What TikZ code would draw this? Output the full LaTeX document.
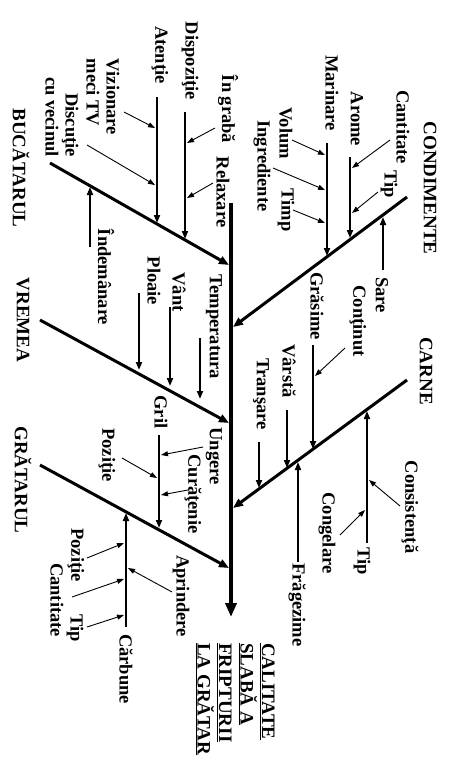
\documentclass[tikz,border=0pt]{standalone}
\usepackage{fontspec}
\setmainfont{Liberation Serif}
\usetikzlibrary{arrows.meta}
\begin{document}
\begin{tikzpicture}[x=1pt,y=-1pt,
 lbl/.style={rotate=-90,inner sep=0pt,font=\fontsize{18.5}{20}\selectfont\bfseries},
 hdr/.style={rotate=-90,inner sep=0pt,font=\fontsize{19}{21.5}\selectfont\bfseries},
 spine/.style={line width=4pt,-{Triangle[length=14pt,width=11pt]}},
 bone/.style={line width=3pt,-{Triangle[length=10pt,width=8pt]}},
 sub/.style={line width=1.8pt,-{Triangle[length=8pt,width=6pt]}},
 thinarr/.style={line width=0.9pt,-{Triangle[length=7pt,width=5pt]}}]
\useasboundingbox (0,0) rectangle (473,772);
\fill[white] (0,0) rectangle (473,772);

% headers and title
\node[hdr] (buc) at (21,168) {BUCĂTARUL};
\node[hdr] (vre) at (23,320) {VREMEA};
\node[hdr] (gra) at (23,480) {GRĂTARUL};
\node[hdr] (cond) at (430,188) {CONDIMENTE};
\node[hdr] (carne) at (426,371) {CARNE};
\node[hdr,align=left,anchor=north west] (title) at (275,643)
 {\underline{CALITATE}\\\underline{SLABĂ A}\\\underline{FRIPTURII}\\\underline{LA GRĂTAR}};

% left labels
\node[lbl] (aten) at (160,55) {Atenţie};
\node[lbl] (disp) at (190,61) {Dispoziţie};
\node[lbl,align=left] (viz) at (103,97) {Vizionare\\meci TV};
\node[lbl,align=right] (disc) at (62,117) {Discuţie\\cu vecinul};
\node[lbl] (grab) at (228,109) {În grabă};
\node[lbl] (relax) at (223,192) {Relaxare};
\node[lbl] (indem) at (106,277) {Îndemânare};
\node[lbl] (temp) at (214,327) {Temperatura};
\node[lbl] (vant) at (179,292) {Vânt};
\node[lbl] (ploaie) at (154,281) {Ploaie};
\node[lbl] (gril) at (161,412) {Gril};
\node[lbl] (ungere) at (214,456) {Ungere};
\node[lbl] (curat) at (193,494) {Curăţenie};
\node[lbl] (poz) at (107,455) {Poziţie};
\node[lbl] (aprind) at (181,596) {Aprindere};
\node[lbl] (carb) at (126,669) {Cărbune};
\node[lbl] (poz2) at (76,555) {Poziţie};
\node[lbl] (cant2) at (57,600) {Cantitate};
\node[lbl] (tip2) at (75,628) {Tip};

% right labels
\node[lbl] (cant) at (403,127) {Cantitate};
\node[lbl] (arome) at (357,119) {Arome};
\node[lbl] (marin) at (332,93) {Marinare};
\node[lbl] (tip) at (389,184) {Tip};
\node[lbl] (volum) at (286,133) {Volum};
\node[lbl] (ingr) at (262,166) {Ingrediente};
\node[lbl] (timp) at (286,210) {Timp};
\node[lbl] (sare) at (382,295) {Sare};
\node[lbl] (gras) at (317,306) {Grăsime};
\node[lbl] (contin) at (358,321) {Conţinut};
\node[lbl] (varsta) at (289,371) {Vârstă};
\node[lbl] (transare) at (261,394) {Tranşare};
\node[lbl] (frag) at (297,605) {Frăgezime};
\node[lbl] (tip3) at (362,561) {Tip};
\node[lbl] (consist) at (410,507) {Consistenţă};
\node[lbl] (congel) at (327,533) {Congelare};

% spine
\coordinate (sp1) at (231,203);
\coordinate (sp2) at (231,617);
\draw[spine] (sp1) -- (sp2);

% main bones
\coordinate (b1s) at (50,163);  \coordinate (b1e) at (229,265);
\coordinate (b2s) at (40,320);  \coordinate (b2e) at (229,423);
\coordinate (b3s) at (40,465);  \coordinate (b3e) at (229,568);
\coordinate (b4s) at (407,197); \coordinate (b4e) at (233,327);
\coordinate (b5s) at (407,380); \coordinate (b5e) at (233,508);
\draw[bone] (b1s) -- (b1e);
\draw[bone] (b2s) -- (b2e);
\draw[bone] (b3s) -- (b3e);
\draw[bone] (b4s) -- (b4e);
\draw[bone] (b5s) -- (b5e);

% vertical sub-causes
\coordinate (atenA) at (157,97);  \coordinate (atenB) at (157,223);
\coordinate (dispA) at (185,112); \coordinate (dispB) at (185,239);
\coordinate (indA) at (90,247);   \coordinate (indB) at (90,187);
\coordinate (tempA) at (200,338); \coordinate (tempB) at (200,399);
\coordinate (vantA) at (170,307); \coordinate (vantB) at (170,386);
\coordinate (ploA) at (139,293);  \coordinate (ploB) at (139,370);
\coordinate (grilA) at (159,435); \coordinate (grilB) at (159,528);
\coordinate (carbA) at (126,627); \coordinate (carbB) at (126,513);
\coordinate (aromA) at (350,157); \coordinate (aromB) at (350,238);
\coordinate (marA) at (327,143);  \coordinate (marB) at (327,256);
\coordinate (sareA) at (383,270); \coordinate (sareB) at (383,217);
\coordinate (grasA) at (313,345); \coordinate (grasB) at (313,449);
\coordinate (varA) at (287,410);  \coordinate (varB) at (287,468);
\coordinate (traA) at (259,442);  \coordinate (traB) at (259,488);
\coordinate (fragA) at (298,562); \coordinate (fragB) at (298,462);
\coordinate (tipcA) at (367,543); \coordinate (tipcB) at (367,411);
\draw[sub] (atenA) -- (atenB);
\draw[sub] (dispA) -- (dispB);
\draw[sub] (indA) -- (indB);
\draw[sub] (tempA) -- (tempB);
\draw[sub] (vantA) -- (vantB);
\draw[sub] (ploA) -- (ploB);
\draw[sub] (grilA) -- (grilB);
\draw[sub] (carbA) -- (carbB);
\draw[sub] (aromA) -- (aromB);
\draw[sub] (marA) -- (marB);
\draw[sub] (sareA) -- (sareB);
\draw[sub] (grasA) -- (grasB);
\draw[sub] (varA) -- (varB);
\draw[sub] (traA) -- (traB);
\draw[sub] (fragA) -- (fragB);
\draw[sub] (tipcA) -- (tipcB);

% thin diagonal arrows
\coordinate (vizA) at (124,112);  \coordinate (vizB) at (155,128);
\coordinate (discA) at (87,145);  \coordinate (discB) at (155,185);
\coordinate (grabA) at (215,128); \coordinate (grabB) at (187,143);
\coordinate (relA) at (213,183);  \coordinate (relB) at (187,198);
\coordinate (ungA) at (203,447);  \coordinate (ungB) at (161,455);
\coordinate (curA) at (188,490);  \coordinate (curB) at (161,495);
\coordinate (pozA) at (122,458);  \coordinate (pozB) at (157,478);
\coordinate (aprA) at (172,592);  \coordinate (aprB) at (128,568);
\coordinate (poz2A) at (87,558);  \coordinate (poz2B) at (124,543);
\coordinate (can2A) at (72,597);  \coordinate (can2B) at (124,579);
\coordinate (tip2A) at (87,627);  \coordinate (tip2B) at (124,615);
\coordinate (canA) at (390,140);  \coordinate (canB) at (352,168);
\coordinate (tipA) at (378,192);  \coordinate (tipB) at (352,213);
\coordinate (volA) at (292,140);  \coordinate (volB) at (325,155);
\coordinate (ingA) at (273,168);  \coordinate (ingB) at (325,190);
\coordinate (timA) at (293,210);  \coordinate (timB) at (325,223);
\coordinate (conA) at (345,348);  \coordinate (conB) at (315,376);
\coordinate (csA) at (400,506);   \coordinate (csB) at (369,480);
\coordinate (cgA) at (340,535);   \coordinate (cgB) at (365,510);
\foreach \p in {viz,disc,grab,rel,ung,cur,poz,apr,poz2,can2,tip2,can,tip,vol,ing,tim,con,cs,cg}
  \draw[thinarr] (\p A) -- (\p B);
\end{tikzpicture}
\end{document}
